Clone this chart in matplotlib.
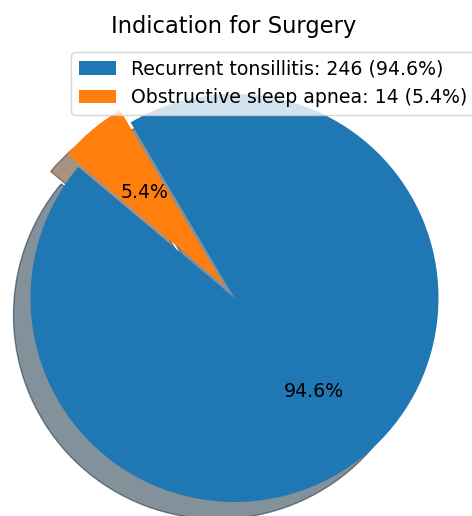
import matplotlib
matplotlib.use("Agg")
import matplotlib.pyplot as plt

# indicaciones para cirugia
categorias = ["Recurrent tonsillitis", "Obstructive sleep apnea"]
pacientes = [246, 14]
cores = ["#1f77b4", "#ff7f0e"]
explode = (0, 0.08)

total = sum(pacientes)
rotulos = [f"{c}: {n} ({n / total * 100:.1f}%)" for c, n in zip(categorias, pacientes)]

fig = plt.figure(figsize=(4.72, 5.16), dpi=100)
ax = fig.add_axes([0, 0, 1, 1])

wedges, textos, autotextos = ax.pie(pacientes, colors=cores, explode=explode,
                                    autopct="%1.1f%%", startangle=140,
                                    shadow={"ox": -0.06, "oy": -0.06},
                                    textprops={"fontsize": 13.6})

# centro da pizza em (234.5, 298) px, raio 204 px
ax.set_xlim(-234.5 / 204, 237.5 / 204)
ax.set_ylim(-218 / 204, 298 / 204)
ax.axis("off")

fig.text(233.5 / 472, 1 - 33 / 516, "Indication for Surgery", ha="center",
         va="baseline", fontsize=16.3)
fig.legend(wedges, rotulos, loc="upper left", bbox_to_anchor=(71 / 472, 1 - 52 / 516),
           borderaxespad=0, fontsize=13.6)

fig.savefig("out.png", dpi=100)
